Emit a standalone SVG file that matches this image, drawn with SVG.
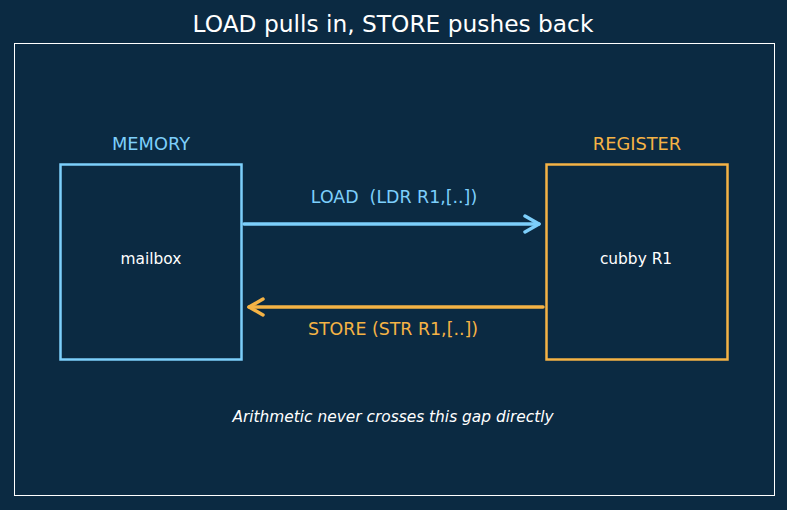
<svg xmlns="http://www.w3.org/2000/svg" width="787" height="510" viewBox="0 0 787 510">
<defs>
<style>
text{font-family:"DejaVu Sans","Liberation Sans",sans-serif;text-anchor:middle}
.box{fill:none;stroke-width:2.5}
.mem{stroke:#7dcffb}
.reg{stroke:#f5b345}
.tm{fill:#7dcffb}
.tr{fill:#f5b345}
.w{fill:#ffffff}
.conn{fill:none;stroke-width:3.5;stroke-linecap:round}
</style>
<marker id="ahB" viewBox="0 0 20 20" refX="17" refY="10" markerWidth="20" markerHeight="20" markerUnits="userSpaceOnUse" orient="auto">
<path d="M3,2 L17,10 L3,18" fill="none" stroke="#7dcffb" stroke-width="3.5" stroke-linecap="round" stroke-linejoin="round"/>
</marker>
<marker id="ahO" viewBox="0 0 20 20" refX="17" refY="10" markerWidth="20" markerHeight="20" markerUnits="userSpaceOnUse" orient="auto">
<path d="M3,2 L17,10 L3,18" fill="none" stroke="#f5b345" stroke-width="3.5" stroke-linecap="round" stroke-linejoin="round"/>
</marker>
</defs>
<rect x="0" y="0" width="787" height="510" fill="#0b2a42"/>
<text x="393" y="32" class="w" font-size="23.3">LOAD pulls in, STORE pushes back</text>
<rect x="14.5" y="43.5" width="760" height="452" fill="none" stroke="#ffffff" stroke-width="1"/>
<g id="memory">
<text x="151" y="150" class="tm" font-size="17.8">MEMORY</text>
<rect x="60.5" y="164.5" width="181" height="195" class="box mem"/>
<text x="151" y="263.5" class="w" font-size="15.4">mailbox</text>
</g>
<g id="register">
<text x="637" y="150" class="tr" font-size="17.8">REGISTER</text>
<rect x="546.5" y="164.5" width="181" height="195" class="box reg"/>
<text x="636" y="263.5" class="w" font-size="15.4">cubby R1</text>
</g>
<g id="connectors">
<line x1="244" y1="224" x2="539" y2="224" class="conn" stroke="#7dcffb" marker-end="url(#ahB)"/>
<text x="394" y="203" class="tm" font-size="17.4" xml:space="preserve">LOAD  (LDR R1,[..])</text>
<line x1="543" y1="307" x2="249" y2="307" class="conn" stroke="#f5b345" marker-end="url(#ahO)"/>
<text x="393" y="334.5" class="tr" font-size="17.4">STORE (STR R1,[..])</text>
</g>
<text x="393" y="422" class="w" font-size="15.4" font-style="italic">Arithmetic never crosses this gap directly</text>
</svg>
